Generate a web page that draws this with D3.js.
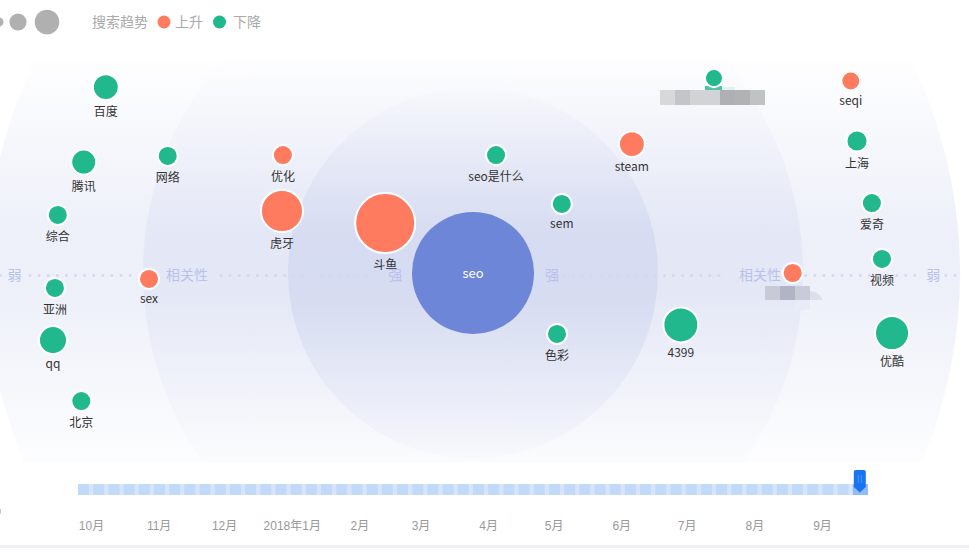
<!DOCTYPE html>
<html>
<head>
<meta charset="utf-8">
<script src="https://cdn.jsdelivr.net/npm/d3@7"></script>
<style>
  body { margin: 0; background: #fff; }
  svg { display: block; }
  text { font-family: "Noto Sans CJK SC", "Noto Sans", sans-serif; }
  .axis text { font-family: "Liberation Sans", "Noto Sans CJK SC", sans-serif; font-size: 12px; fill: #999; }
</style>
</head>
<body>
<svg id="chart"></svg>
<script>
// relevance (x), trend score (y), search volume, 1 = rising / 0 = falling
const names = ['seo', '斗鱼', '虎牙', '优化', 'sex', 'steam', 'seqi', '', '', '百度', '腾讯', '网络', '综合', '亚洲', 'qq', '北京', 'seo是什么', 'sem', '色彩', '4399', '上海', '爱奇', '视频', '优酷'];
const relevance = [0, -18.3, -39.8, -39.6, -67.5, 33.1, 78.7, 66.6, 50.2, -76.5, -81.1, -63.6, -86.5, -87.1, -87.5, -81.6, 4.8, 18.5, 17.5, 43.3, 80, 83.1, 85.2, 87.3];
const trend = [0, 22.7, 28.2, 53.6, -2.7, 58.6, 87.3, 0, 88.6, 84.5, 50.4, 53.2, 26.4, -6.8, -30.5, -58.2, 53.6, 31.4, -27.7, -23.6, 60.0, 31.8, 6.4, -27.3];
const volume = [100, 24.2, 11.9, 2.7, 2.7, 4.5, 2.4, 2.7, 2.2, 4.5, 4.2, 2.7, 2.7, 2.7, 5.3, 2.7, 2.7, 2.7, 2.7, 8.2, 3, 2.7, 2.7, 7.8];
const rising = [0, 1, 1, 1, 1, 1, 1, 1, 0, 0, 0, 0, 0, 0, 0, 0, 0, 0, 0, 0, 0, 0, 0, 0];

const monthTicks = ['2017-10-01', '2017-11-01', '2017-12-01', '2018-01-01', '2018-02-01', '2018-03-01', '2018-04-01', '2018-05-01', '2018-06-01', '2018-07-01', '2018-08-01', '2018-09-01'];
const monthLabels = ['10月', '11月', '12月', '2018年1月', '2月', '3月', '4月', '5月', '6月', '7月', '8月', '9月'];
const sizeLegend = [0.6, 2.2, 4.5];
const bands = [487, 330, 185];
const axisWords = [['弱', -95.5], ['相关性', -59.6], ['强', -16.2], ['强', 16.5], ['相关性', 59.8], ['弱', 95.9]];
const dotSegments = [[-98.5, -97.6], [-92.3, -70], [-52.5, -20.4], [19, 52.5], [65.5, 93], [98.5, 102]];
const mosaicTop = ['#d8d8d8', '#c4c5c8', '#d3d3d5', '#d2d3d7', '#b0afb3', '#b2b2b4', '#c0c3c4'];
const mosaicSide = ['#c8cad6', '#b0b4c4', '#c9ccd8', '#dde0ea'];

const width = 969, height = 554;
const UP = '#ff7b60', DOWN = '#20b88c', HUB = '#6e86d8';

const svg = d3.select('#chart').attr('width', width).attr('height', height);

const x = d3.scaleLinear().domain([-100, 100]).range([-7, 953]);
const y = d3.scaleLinear().domain([-100, 100]).range([493, 53]);
const r = d3.scaleSqrt().domain([0, 100]).range([0, 61]);

const defs = svg.append('defs');
defs.append('clipPath').attr('id', 'plot')
  .append('rect').attr('x', 0).attr('y', 60).attr('width', width).attr('height', 402);

// Each band fades towards the top and bottom of its own extent
const addFade = (id, top, bottom, alpha) => {
  const grad = defs.append('linearGradient').attr('id', id)
    .attr('gradientUnits', 'userSpaceOnUse')
    .attr('x1', 0).attr('x2', 0).attr('y1', top).attr('y2', bottom);
  [[0, 0.06], [0.42, 1], [0.58, 1], [1, 0.14]].forEach(s => {
    grad.append('stop').attr('offset', s[0]).attr('stop-color', '#8c9cd8').attr('stop-opacity', s[1] * alpha);
  });
};
addFade('fade0', 60, 462, 0.148);
addFade('fade1', 60, 462, 0.1);
addFade('fade2', 84, 462, 0.16);

const bandG = svg.append('g').attr('clip-path', 'url(#plot)');
bandG.selectAll('circle').data(bands).join('circle')
  .attr('cx', x(0)).attr('cy', y(0))
  .attr('r', d => d)
  .attr('fill', (d, i) => `url(#fade${i})`);

// Dotted axis, broken up around the words
dotSegments.forEach(s => {
  svg.append('line')
    .attr('x1', x(s[0])).attr('x2', x(s[1]))
    .attr('y1', 275.5).attr('y2', 275.5)
    .attr('stroke', '#d3d9f4').attr('stroke-width', 3)
    .attr('stroke-linecap', 'round').attr('stroke-dasharray', '0.1 9');
});

svg.append('g').selectAll('text').data(axisWords).join('text')
  .attr('x', d => x(d[1])).attr('y', 276)
  .attr('text-anchor', 'middle').attr('dominant-baseline', 'middle')
  .attr('font-size', 14).attr('fill', '#b9c2ea')
  .text(d => d[0]);

// Redacted label above the top-right point
svg.append('rect').attr('x', 705).attr('y', 86).attr('width', 17).attr('height', 4).attr('fill', '#4fc3a5');
svg.append('rect').attr('x', 722).attr('y', 87).attr('width', 13).attr('height', 3).attr('fill', '#e0f2f0');
svg.append('g').selectAll('rect').data(mosaicTop).join('rect')
  .attr('x', (d, i) => 660 + i * 15).attr('y', 90)
  .attr('width', 15).attr('height', 15)
  .attr('fill', d => d);

// Redacted label under the rising point on the right
svg.append('rect').attr('x', 795).attr('y', 300).attr('width', 15).attr('height', 10).attr('fill', '#e9ecf8');
svg.append('g').selectAll('rect').data(mosaicSide).join('rect')
  .attr('x', (d, i) => 765 + i * 15).attr('y', 286)
  .attr('width', (d, i) => i === 3 ? 13 : 15).attr('height', 14)
  .attr('fill', d => d);
svg.append('path').attr('d', 'M810,286 L823,286 L823,300 Q820,292 810,291 Z').attr('fill', '#eef1fb');

// Points
const nodes = d3.range(names.length).filter(i => i > 0);
const nodeG = svg.append('g').selectAll('g').data(nodes).join('g')
  .attr('transform', i => `translate(${x(relevance[i])},${y(trend[i])})`);

nodeG.append('circle')
  .attr('r', i => r(volume[i]))
  .attr('fill', i => rising[i] ? UP : DOWN)
  .attr('stroke', '#fff').attr('stroke-width', 2);

// CJK labels sit a little lower than the latin ones
nodeG.append('text')
  .attr('y', i => r(volume[i]) + (/[^\x00-\x7f]/.test(names[i]) ? 13 : 11))
  .attr('text-anchor', 'middle').attr('dominant-baseline', 'middle')
  .attr('font-size', 12).attr('fill', '#333')
  .text(i => names[i]);

// Centre term
svg.append('circle').attr('cx', x(relevance[0])).attr('cy', y(trend[0]))
  .attr('r', r(volume[0])).attr('fill', HUB);
svg.append('text').attr('x', x(relevance[0])).attr('y', y(trend[0]) + 1)
  .attr('text-anchor', 'middle').attr('dominant-baseline', 'middle')
  .attr('font-size', 13).attr('fill', '#fff').text(names[0]);

// Legend
const legendX = [-1, 18, 47];
svg.append('g').selectAll('circle').data(sizeLegend).join('circle')
  .attr('cx', (d, i) => legendX[i]).attr('cy', 22)
  .attr('r', d => r(d) * 0.95)
  .attr('fill', '#b0b0b0');
svg.append('text').attr('x', 92).attr('y', 23).attr('font-size', 14).attr('fill', '#aaa')
  .attr('dominant-baseline', 'middle').text('搜索趋势');
svg.append('circle').attr('cx', 164).attr('cy', 22).attr('r', 6.5).attr('fill', UP);
svg.append('text').attr('x', 175).attr('y', 23).attr('font-size', 14).attr('fill', '#aaa')
  .attr('dominant-baseline', 'middle').text('上升');
svg.append('circle').attr('cx', 219.5).attr('cy', 22).attr('r', 6.5).attr('fill', DOWN);
svg.append('text').attr('x', 233).attr('y', 23).attr('font-size', 14).attr('fill', '#aaa')
  .attr('dominant-baseline', 'middle').text('下降');

// Timeline
const parse = d3.utcParse('%Y-%m-%d');
const t = d3.scaleUtc()
  .domain([parse('2017-10-01'), parse('2018-09-01')])
  .range([91, 822]);
const weeks = d3.utcWeek.range(parse('2017-09-24'), parse('2018-09-23'));
const weekBand = d3.scaleBand().domain(weeks).range([78, 868]);
const current = weeks[weeks.length - 1];

svg.append('rect').attr('x', 78).attr('y', 484).attr('width', 790).attr('height', 11).attr('fill', '#d6e5fc');
svg.append('g').selectAll('rect').data(weeks).join('rect')
  .attr('x', d => weekBand(d))
  .attr('y', 484)
  .attr('width', d => d === current ? weekBand.step() : 11)
  .attr('height', 11)
  .attr('fill', d => d === current ? '#93bbf7' : '#c3d9f9');

const tl = weekBand(current) + 7;
svg.append('path')
  .attr('d', `M${tl - 6},472 Q${tl - 6},470 ${tl - 4},470 L${tl + 4},470 Q${tl + 6},470 ${tl + 6},472 L${tl + 6},487 L${tl},492.5 L${tl - 6},487 Z`)
  .attr('fill', '#1a73f0');
[-1.5, 1.5].forEach(o => {
  svg.append('line').attr('x1', tl + o).attr('x2', tl + o).attr('y1', 475).attr('y2', 483)
    .attr('stroke', '#2fa5f0').attr('stroke-width', 1);
});

const axis = d3.axisBottom(t)
  .tickValues(monthTicks.map(parse))
  .tickFormat((d, i) => monthLabels[i])
  .tickSize(0).tickPadding(0);
const axisG = svg.append('g').attr('class', 'axis').attr('transform', 'translate(0,521)').call(axis);
axisG.select('.domain').remove();

// Page edge
svg.append('rect').attr('x', 0).attr('y', 545).attr('width', width).attr('height', 3).attr('fill', '#eef0f4');
svg.append('rect').attr('x', 0).attr('y', 509).attr('width', 1).attr('height', 5).attr('fill', '#ccc');
</script>
</body>
</html>
